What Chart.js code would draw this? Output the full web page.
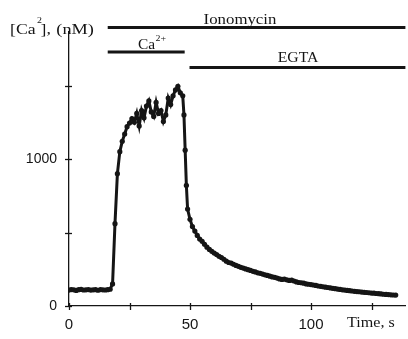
<!DOCTYPE html>
<html><head><meta charset="utf-8">
<script src="https://cdn.jsdelivr.net/npm/chart.js@4/dist/chart.umd.min.js"></script>
<style>html,body{margin:0;padding:0;background:#fff;overflow:hidden}</style>
</head><body>
<canvas id="c" width="408" height="339"></canvas>
<script>
// time (s)
const times = [0,1,2,3,4,5,6,7,8,9,10,11,12,13,14,15,16,17,18,19,20,21,22,23,24,25,26,27,28,29,30,31,32,33,34,35,36,37,38,39,40,41,42,43,44,45,46,47,
47.5,48,48.5,49,
50,51,52,53,54,55,56,57,58,59,60,61,62,63,64,65,66,67,68,69,70,71,72,73,74,75,76,77,78,79,80,81,82,83,84,85,86,87,88,89,90,91,92,93,94,95,96,97,98,99,
100,101,102,103,104,105,106,107,108,109,110,111,112,113,114,115,116,117,118,119,120,121,122,123,124,125,126,127,128,129,130,131,132,133,134,135];
// [Ca2+] (nM)
const caValues = [108,112,110,106,111,113,109,110,112,108,110,111,107,112,110,109,111,114,
150,560,900,1050,1120,1170,1220,1245,1275,1250,1310,1225,1330,1280,1360,1395,1320,1290,1385,1310,1330,1255,1300,1415,1370,1430,1470,1495,1450,1430,
1300,1060,820,660,
590,540,510,480,455,440,420,400,385,372,
360,350,338,330,318,305,296,292,284,276,
270,263,258,252,247,242,236,232,226,222,
217,212,208,203,198,195,190,184,181,183,
178,174,176,170,164,160,158,155,150,148,
146,143,140,136,134,131,128,126,123,120,
118,115,113,110,108,106,104,102,100,98,
97,95,93,92,90,88,87,85,84,82,
80,79,78,76,75,74];
const xTicks = [0,25,50,75,100,125];
const xTickLabels = [0,50,100];
const yTicks = [0,500,1000,1500];
const yTickLabels = [0,1000];
// treatment bars (s)
const treatments = ['Ionomycin','Ca','EGTA'];
const treatStart = [16,16,49.8];
const treatEnd = [139,47.8,139];

const INK = '#151515';
const SERIF = '"Liberation Serif","Times New Roman",serif';

function sText(ctx, text, x, y, size, sx, align){
  ctx.save();
  ctx.font = size + 'px ' + SERIF;
  ctx.translate(x, y);
  ctx.scale(sx, 1);
  ctx.textAlign = align || 'left';
  ctx.textBaseline = 'alphabetic';
  ctx.fillText(text, 0, 0);
  const w = ctx.measureText(text).width * sx;
  ctx.restore();
  return w;
}

const annot = {
  id:'annot',
  afterDraw(chart){
    const ctx = chart.ctx, xs = chart.scales.x, ys = chart.scales.y;
    const ca = chart.chartArea;
    ctx.save();
    ctx.strokeStyle = INK; ctx.fillStyle = INK; ctx.lineWidth = 1.3;
    // cross tick marks
    xTicks.forEach(v=>{ const px = Math.round(xs.getPixelForValue(v))+0.5;
      ctx.beginPath(); ctx.moveTo(px, ca.bottom-3); ctx.lineTo(px, ca.bottom+4); ctx.stroke(); });
    yTicks.forEach(v=>{ const py = Math.round(ys.getPixelForValue(v))+0.5;
      ctx.beginPath(); ctx.moveTo(ca.left-4, py); ctx.lineTo(ca.left+3, py); ctx.stroke(); });
    // treatment bars
    const barY = [27.5, 52, 67.5];
    ctx.lineWidth = 2.8;
    treatments.forEach((t,i)=>{
      const x0 = xs.getPixelForValue(treatStart[i]);
      const x1 = Math.min(xs.getPixelForValue(treatEnd[i]), chart.width);
      ctx.beginPath(); ctx.moveTo(x0, barY[i]); ctx.lineTo(x1, barY[i]); ctx.stroke();
    });
    // bar labels
    sText(ctx, treatments[0], 240, 24, 14, 1.2, 'center');
    let w = sText(ctx, treatments[1], 138, 49, 14, 1.1, 'left');
    sText(ctx, '2+', 138 + w + 0.5, 41, 9, 1.1, 'left');
    sText(ctx, treatments[2], 298, 62, 15, 1.05, 'center');
    // y-axis title
    let x = 10;
    x += sText(ctx, '[Ca', x, 34, 15, 1.18, 'left');
    sText(ctx, '2', x + 1.5, 23, 9, 1.1, 'left');
    x += 5;
    x += sText(ctx, ']', x, 34, 15, 1.18, 'left');
    x += sText(ctx, ', ', x, 34, 15, 1.18, 'left');
    sText(ctx, '(nM)', x + 1, 34, 15, 1.22, 'left');
    // x-axis title
    sText(ctx, 'Time, s', 347, 327, 14, 1.15, 'left');
    ctx.restore();
  }
};

new Chart(document.getElementById('c'), {
  type:'line',
  data:{ datasets:[{
    data: times.map((t,i)=>({x:t, y:caValues[i]})),
    borderColor: INK, backgroundColor: INK,
    borderWidth: 3, pointRadius: 2.6, pointBorderWidth: 0,
    pointHoverRadius: 0, tension: 0
  }]},
  options:{
    responsive:false, animation:false, devicePixelRatio:1,
    events: [],
    layout:{ padding:{ top:32, right:0, left:0, bottom:0 } },
    plugins:{ legend:{display:false}, tooltip:{enabled:false} },
    scales:{
      x:{
        type:'linear', min:0, max:139,
        afterBuildTicks(s){ s.ticks = xTicks.map(v=>({value:v})); },
        afterFit(s){ s.height = 33; },
        grid:{ display:false, drawTicks:false },
        border:{ display:true, color:INK, width:1.3 },
        ticks:{ autoSkip:false, maxRotation:0,
          padding:10, color:INK, font:{ family:'"Liberation Sans",Arial,sans-serif', size:15 },
          callback:(v)=> xTickLabels.includes(v) ? String(v) : '' }
      },
      y:{
        type:'linear', min:0, max:1864,
        afterBuildTicks(s){ s.ticks = yTicks.map(v=>({value:v})); },
        afterFit(s){ s.width = 69; },
        grid:{ display:false, drawTicks:false },
        border:{ display:true, color:INK, width:1.3 },
        ticks:{ autoSkip:false,
          padding:12, color:INK, font:{ family:'"Liberation Sans",Arial,sans-serif', size:14 },
          callback:(v)=> yTickLabels.includes(v) ? String(v) : '' }
      }
    }
  },
  plugins:[annot]
});
</script>
</body></html>
